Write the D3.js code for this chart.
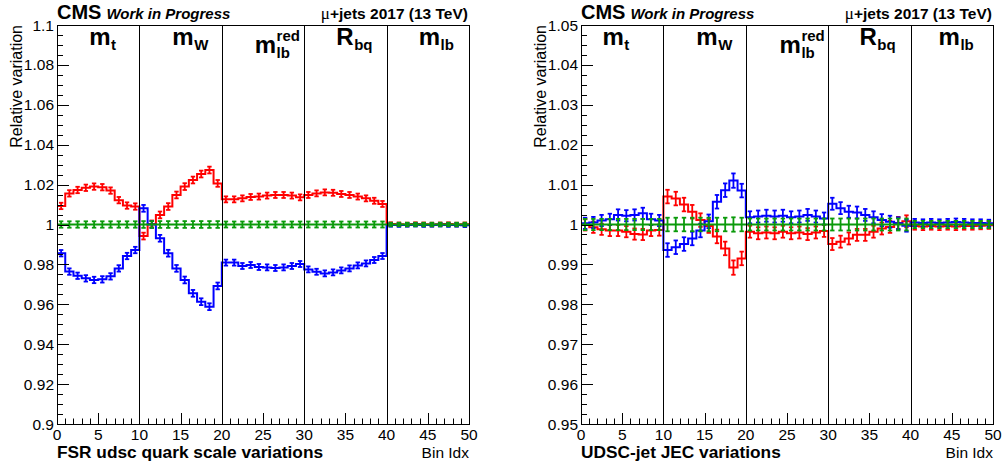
<!DOCTYPE html>
<html>
<head>
<meta charset="utf-8">
<script src="https://cdn.jsdelivr.net/npm/d3@7"></script>
<style>
  body { margin: 0; background: #fff; }
  svg { display: block; }
  text { font-family: "Liberation Sans", Arial, Helvetica, sans-serif; fill: #000; }
</style>
</head>
<body>
<svg id="chart" width="1004" height="466"></svg>
<script>
// ---- axis ticks ----
const xTickValues = [0, 5, 10, 15, 20, 25, 30, 35, 40, 45, 50];
const xTickLabels = ["0", "5", "10", "15", "20", "25", "30", "35", "40", "45", "50"];
const fsrYTickValues = [0.9, 0.92, 0.94, 0.96, 0.98, 1.0, 1.02, 1.04, 1.06, 1.08, 1.1];
const fsrYTickLabels = ["0.9", "0.92", "0.94", "0.96", "0.98", "1", "1.02", "1.04", "1.06", "1.08", "1.1"];
const jecYTickValues = [0.95, 0.96, 0.97, 0.98, 0.99, 1.0, 1.01, 1.02, 1.03, 1.04, 1.05];
const jecYTickLabels = ["0.95", "0.96", "0.97", "0.98", "0.99", "1", "1.01", "1.02", "1.03", "1.04", "1.05"];

// ---- observable sections (10 bins each) ----
const sectionEdges = [10, 20, 30, 40];
const sectionBase = ["m", "m", "m", "R", "m"];
const sectionSub = ["t", "W", "lb", "bq", "lb"];
const sectionSup = ["", "", "red", "", ""];

// ---- FSR udsc quark scale: relative variation per bin ----
const fsrUp = [
  1.0093, 1.0156, 1.0173, 1.0184, 1.0190, 1.0187, 1.0170, 1.0122, 1.0095, 1.0090,
  0.9942, 1.0003, 1.0048, 1.0090, 1.0148, 1.0190, 1.0223, 1.0253, 1.0273, 1.0206,
  1.0126, 1.0126, 1.0131, 1.0138, 1.0140, 1.0145, 1.0148, 1.0148, 1.0145, 1.0136,
  1.0148, 1.0156, 1.0161, 1.0159, 1.0153, 1.0148, 1.0140, 1.0131, 1.0119, 1.0103,
  1.0002, 1.0001, 1.0000, 1.0002, 1.0001, 1.0000, 1.0001, 1.0002, 1.0000, 1.0001
];
const fsrDown = [
  0.9856, 0.9764, 0.9743, 0.9730, 0.9722, 0.9725, 0.9740, 0.9780, 0.9842, 0.9872,
  1.0081, 1.0000, 0.9931, 0.9856, 0.9780, 0.9722, 0.9655, 0.9613, 0.9588, 0.9692,
  0.9809, 0.9809, 0.9792, 0.9797, 0.9787, 0.9785, 0.9782, 0.9785, 0.9792, 0.9802,
  0.9775, 0.9763, 0.9755, 0.9760, 0.9770, 0.9780, 0.9795, 0.9805, 0.9822, 0.9842,
  0.9998, 0.9997, 0.9998, 0.9999, 0.9997, 0.9998, 0.9999, 0.9997, 0.9998, 0.9996
];
const fsrNominal = [
  1, 1, 1, 1, 1, 1, 1, 1, 1, 1,
  1, 1, 1, 1, 1, 1, 1, 1, 1, 1,
  1, 1, 1, 1, 1, 1, 1, 1, 1, 1,
  1, 1, 1, 1, 1, 1, 1, 1, 1, 1,
  1, 1, 1, 1, 1, 1, 1, 1, 1, 1
];
const fsrErr = [
  0.0016, 0.0016, 0.0016, 0.0016, 0.0016, 0.0016, 0.0016, 0.0016, 0.0016, 0.0016,
  0.0017, 0.0017, 0.0017, 0.0017, 0.0017, 0.0017, 0.0017, 0.0017, 0.0017, 0.0017,
  0.0015, 0.0015, 0.0015, 0.0015, 0.0015, 0.0015, 0.0015, 0.0015, 0.0015, 0.0015,
  0.0015, 0.0015, 0.0015, 0.0015, 0.0015, 0.0015, 0.0015, 0.0015, 0.0015, 0.0015,
  0.0009, 0.0009, 0.0009, 0.0009, 0.0009, 0.0009, 0.0009, 0.0009, 0.0009, 0.0009
];

// ---- UDSC-jet JEC: relative variation per bin ----
const jecDown = [
  0.9999, 0.9993, 0.9988, 0.9985, 0.9985, 0.9982, 0.9976, 0.9975, 0.9985, 0.9986,
  1.0070, 1.0065, 1.0050, 1.0032, 1.0011, 0.9996, 0.9970, 0.9940, 0.9892, 0.9915,
  0.9982, 0.9978, 0.9980, 0.9978, 0.9982, 0.9978, 0.9980, 0.9976, 0.9980, 0.9984,
  0.9951, 0.9957, 0.9965, 0.9974, 0.9974, 0.9982, 0.9990, 0.9994, 1.0004, 1.0008,
  0.9996, 0.9995, 0.9996, 0.9995, 0.9996, 0.9995, 0.9996, 0.9996, 0.9997, 0.9998
];
const jecUp = [
  1.0003, 1.0005, 1.0010, 1.0013, 1.0024, 1.0022, 1.0024, 1.0028, 1.0013, 1.0010,
  0.9936, 0.9943, 0.9951, 0.9965, 0.9985, 1.0008, 1.0057, 1.0086, 1.0110, 1.0085,
  1.0018, 1.0020, 1.0022, 1.0020, 1.0022, 1.0018, 1.0020, 1.0024, 1.0020, 1.0015,
  1.0052, 1.0041, 1.0032, 1.0030, 1.0024, 1.0018, 1.0011, 1.0007, 1.0003, 0.9997,
  1.0005, 1.0004, 1.0005, 1.0004, 1.0005, 1.0006, 1.0005, 1.0004, 1.0004, 1.0003
];
const jecNominal = [
  1, 1, 1, 1, 1, 1, 1, 1, 1, 1,
  1, 1, 1, 1, 1, 1, 1, 1, 1, 1,
  1, 1, 1, 1, 1, 1, 1, 1, 1, 1,
  1, 1, 1, 1, 1, 1, 1, 1, 1, 1,
  1, 1, 1, 1, 1, 1, 1, 1, 1, 1
];
const jecErr = [
  0.0014, 0.0014, 0.0014, 0.0014, 0.0014, 0.0014, 0.0014, 0.0014, 0.0014, 0.0014,
  0.0017, 0.0017, 0.0017, 0.0017, 0.0017, 0.0017, 0.0017, 0.0017, 0.0018, 0.0017,
  0.0015, 0.0015, 0.0015, 0.0015, 0.0015, 0.0015, 0.0015, 0.0015, 0.0015, 0.0015,
  0.0015, 0.0015, 0.0015, 0.0015, 0.0015, 0.0015, 0.0015, 0.0015, 0.0015, 0.0015,
  0.0009, 0.0009, 0.0009, 0.0009, 0.0009, 0.0009, 0.0009, 0.0009, 0.0009, 0.0009
];

const RED = "#ff0000", BLUE = "#0000ff", GREEN = "#0a9a0a";
const svg = d3.select("#chart");

function drawPanel(p) {
  const x = d3.scaleLinear().domain([0, 50]).range([p.left, p.right]);
  const y = d3.scaleLinear().domain(p.yDomain).range([p.bottom, p.top]);
  const g = svg.append("g");

  const clipId = "clip-" + p.id;
  g.append("clipPath").attr("id", clipId)
    .append("rect").attr("x", p.left).attr("y", p.top)
    .attr("width", p.right - p.left).attr("height", p.bottom - p.top);
  const plot = g.append("g").attr("clip-path", `url(#${clipId})`);

  // step histograms with per-bin error bars
  const step = d3.line().x(d => x(d[0])).y(d => y(d[1])).curve(d3.curveStepAfter);
  p.series.forEach(s => {
    const pts = s.values.map((v, i) => [i, v]);
    pts.push([s.values.length, s.values[s.values.length - 1]]);
    plot.append("path").attr("d", step(pts))
      .attr("fill", "none").attr("stroke", s.color).attr("stroke-width", 2);
    const eb = plot.append("g").attr("stroke", s.color).attr("stroke-width", 1.8);
    s.values.forEach((v, i) => {
      const cx = x(i + 0.5), lo = y(v - p.err[i]), hi = y(v + p.err[i]);
      eb.append("line").attr("x1", cx).attr("x2", cx).attr("y1", lo).attr("y2", hi);
      eb.append("line").attr("x1", cx - 2.2).attr("x2", cx + 2.2).attr("y1", lo).attr("y2", lo);
      eb.append("line").attr("x1", cx - 2.2).attr("x2", cx + 2.2).attr("y1", hi).attr("y2", hi);
    });
  });

  // section separators
  g.append("g").selectAll("line").data(sectionEdges).join("line")
    .attr("x1", d => Math.round(x(d)) + 0.5).attr("x2", d => Math.round(x(d)) + 0.5)
    .attr("y1", p.top).attr("y2", p.bottom)
    .attr("stroke", "#000").attr("stroke-width", 1);

  // frame
  g.append("rect").attr("x", p.left + 0.5).attr("y", p.top + 0.5)
    .attr("width", p.right - p.left).attr("height", p.bottom - p.top)
    .attr("fill", "none").attr("stroke", "#000").attr("stroke-width", 1);

  // y ticks (major + 4 minor subdivisions)
  const yStep = p.yTicks[1] - p.yTicks[0];
  const yt = g.append("g").attr("stroke", "#000").attr("stroke-width", 1);
  p.yTicks.forEach((t, k) => {
    const yy = Math.round(y(t)) + 0.5;
    yt.append("line").attr("x1", p.left).attr("x2", p.left + 12).attr("y1", yy).attr("y2", yy);
    if (k < p.yTicks.length - 1) {
      for (let m = 1; m < 4; m++) {
        const ym = Math.round(y(t + yStep * m / 4)) + 0.5;
        yt.append("line").attr("x1", p.left).attr("x2", p.left + 6).attr("y1", ym).attr("y2", ym);
      }
    }
  });
  g.append("g").selectAll("text").data(p.yTicks).join("text")
    .attr("x", p.left - 3).attr("y", d => y(d)).attr("dy", "0.36em")
    .attr("text-anchor", "end").attr("font-size", 15.5)
    .text((d, i) => p.yLabels[i]);

  // x ticks (every bin, longer every 5)
  const xt = g.append("g").attr("stroke", "#000").attr("stroke-width", 1);
  d3.range(0, 51).forEach(b => {
    const xx = Math.round(x(b)) + 0.5;
    const len = b % 5 === 0 ? 11 : 5.5;
    xt.append("line").attr("x1", xx).attr("x2", xx).attr("y1", p.bottom).attr("y2", p.bottom - len);
  });
  g.append("g").selectAll("text").data(xTickValues).join("text")
    .attr("x", d => x(d)).attr("y", p.bottom + 16)
    .attr("text-anchor", "middle").attr("font-size", 15.5)
    .text((d, i) => xTickLabels[i]);

  // section names
  sectionBase.forEach((base, i) => {
    const hasSup = sectionSup[i] !== "";
    const bx = x(p.labelX[i]);
    const by = hasSup ? 53 : 45;
    const t = g.append("text").attr("x", bx).attr("y", by)
      .attr("font-size", 24).attr("font-weight", "bold").text(base);
    const w = t.node().getComputedTextLength();
    g.append("text").attr("x", bx + w + 0.5).attr("y", by + 5)
      .attr("font-size", 15).attr("font-weight", "bold").text(sectionSub[i]);
    if (hasSup) {
      g.append("text").attr("x", bx + w + 0.5).attr("y", by - 12)
        .attr("font-size", 15).attr("font-weight", "bold").text(sectionSup[i]);
    }
  });

  // header
  const cms = g.append("text").attr("x", p.left).attr("y", 19)
    .attr("font-size", 20).attr("font-weight", "bold").text("CMS");
  const cw = cms.node().getComputedTextLength();
  g.append("text").attr("x", p.left + cw + 5).attr("y", 19)
    .attr("font-size", 15).attr("font-weight", "bold").attr("font-style", "italic")
    .text("Work in Progress");
  const lumi = g.append("text").attr("x", p.right - 1).attr("y", 19)
    .attr("text-anchor", "end").attr("font-size", 15.5).attr("font-weight", "bold");
  lumi.append("tspan").attr("font-family", "'Liberation Serif', serif")
    .attr("font-weight", "normal").attr("font-size", 17).text("\u03bc");
  lumi.append("tspan").text("+jets 2017 (13 TeV)");

  // axis titles
  g.append("text").attr("transform", `translate(${p.left - 35},${p.top}) rotate(-90)`)
    .attr("text-anchor", "end").attr("font-size", 16).text("Relative variation");
  g.append("text").attr("x", p.right).attr("y", 458)
    .attr("text-anchor", "end").attr("font-size", 15.5).text("Bin Idx");
  g.append("text").attr("x", p.left).attr("y", 458)
    .attr("font-size", 17.3).attr("font-weight", "bold").text(p.caption);
}

drawPanel({
  id: "fsr", left: 57, right: 469, top: 25, bottom: 424,
  yDomain: [0.9, 1.1], yTicks: fsrYTickValues, yLabels: fsrYTickLabels,
  err: fsrErr,
  series: [
    { values: fsrUp, color: RED },
    { values: fsrDown, color: BLUE },
    { values: fsrNominal, color: GREEN }
  ],
  labelX: [3.9, 14.0, 24.0, 33.9, 43.9],
  caption: "FSR udsc quark scale variations"
});

drawPanel({
  id: "jec", left: 581, right: 993, top: 25, bottom: 424,
  yDomain: [0.95, 1.05], yTicks: jecYTickValues, yLabels: jecYTickLabels,
  err: jecErr,
  series: [
    { values: jecDown, color: RED },
    { values: jecUp, color: BLUE },
    { values: jecNominal, color: GREEN }
  ],
  labelX: [2.6, 14.0, 24.1, 33.8, 43.4],
  caption: "UDSC-jet JEC variations"
});
</script>
</body>
</html>
